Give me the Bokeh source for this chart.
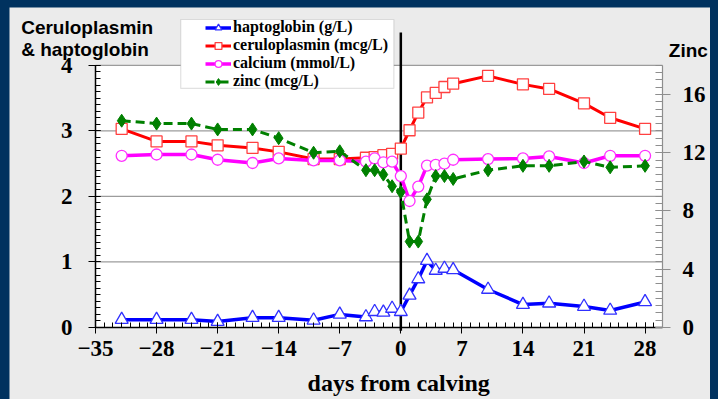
from bokeh.plotting import figure
from bokeh.models import (Range1d, LinearAxis, FixedTicker, Label, BoxAnnotation,
                          Legend, LegendItem, ColumnDataSource)
from bokeh.embed import file_html
from bokeh.resources import INLINE

# ---------------- data ----------------
days = [-32, -28, -24, -21, -17, -14, -10, -7, -4, -3, -2, -1, 0, 1, 2, 3, 4, 5, 6,
        10, 14, 17, 21, 24, 28]
haptoglobin = [0.12, 0.12, 0.12, 0.09, 0.15, 0.15, 0.11, 0.20, 0.16, 0.24, 0.23, 0.29, 0.24,
               0.49, 0.74, 1.02, 0.87, 0.90, 0.88, 0.58, 0.35, 0.37, 0.32, 0.26, 0.39]
ceruloplasmin = [3.03, 2.84, 2.84, 2.78, 2.74, 2.68, 2.57, 2.57, 2.59, 2.60, 2.63, 2.65, 2.73,
                 3.01, 3.28, 3.51, 3.58, 3.67, 3.72, 3.84, 3.71, 3.64, 3.42, 3.20, 3.03]
calcium = [2.62, 2.64, 2.64, 2.56, 2.51, 2.58, 2.55, 2.55, 2.53, 2.58, 2.52, 2.53, 2.31,
           1.93, 2.15, 2.47, 2.48, 2.50, 2.56, 2.57, 2.58, 2.61, 2.51, 2.62, 2.62]
zinc = [14.2, 14.0, 14.0, 13.6, 13.6, 13.0, 12.0, 12.1, 10.8, 10.8, 10.5, 9.7, 9.3,
        5.9, 5.9, 8.8, 10.4, 10.4, 10.2, 10.8, 11.1, 11.1, 11.4, 11.0, 11.1]

x_ticks = [-35, -28, -21, -14, -7, 0, 7, 14, 21, 28]
left_ticks = [0, 1, 2, 3, 4]
right_ticks = [0, 4, 8, 12, 16]
series_names = ["haptoglobin (g/L)", "ceruloplasmin (mcg/L)", "calcium (mmol/L)", "zinc (mcg/L)"]

# ---------------- layout constants ----------------
X_MIN, X_MAX = -35, 30            # plotting box (days)
Y_MAX_AXIS = 4                    # left axis top
ZINC_MAX_AXIS = 18                # right axis top
ZINC_SCALE = 4.5                  # zinc units per left unit
VIEW_X = (-44.86, 35.50)          # whole canvas in data units
VIEW_Y = (-1.0987, 4.8828)
CALVING_DAY = 0
CALVING_LINE = (-0.05, 4.5)
LEGEND_BOX = dict(left=-25.23, right=-0.80, bottom=3.648, top=4.70)

NAVY = "#00325f"
PANEL = "#ebebeb"
GRID = "#9c9c9c"
TICK_FONT = "Liberation Serif"
TITLE_FONT = "Liberation Sans"

src = ColumnDataSource(dict(days=days, haptoglobin=haptoglobin, ceruloplasmin=ceruloplasmin,
                            calcium=calcium, zinc=zinc))

p = figure(width=701, height=392, output_backend="svg", toolbar_location=None,
           x_range=Range1d(*VIEW_X), y_range=Range1d(*VIEW_Y), min_border=0)
p.extra_y_ranges = {"zinc": Range1d(VIEW_Y[0] * ZINC_SCALE, VIEW_Y[1] * ZINC_SCALE)}
p.background_fill_color = PANEL
p.border_fill_color = PANEL
p.outline_line_color = None
p.grid.visible = False

# white plotting box
p.add_layout(BoxAnnotation(left=X_MIN, right=X_MAX, bottom=0, top=Y_MAX_AXIS,
                           fill_color="white", fill_alpha=1, line_alpha=0, level="image"))

# horizontal grid lines (and top border) at the left-axis ticks
grid_y = left_ticks[1:]
p.segment(x0=[X_MIN] * len(grid_y), x1=[X_MAX] * len(grid_y), y0=grid_y, y1=grid_y,
          line_color=GRID, line_width=1.2)


def style_axis(ax, tick_out, tick_in, minor_in, standoff, color="black", lw=1.5):
    ax.axis_line_color = color
    ax.axis_line_width = lw
    ax.major_tick_line_color = color
    ax.minor_tick_line_color = color
    ax.major_tick_out = tick_out
    ax.major_tick_in = tick_in
    ax.minor_tick_out = 0
    ax.minor_tick_in = minor_in
    ax.major_label_standoff = standoff
    ax.major_label_text_font = TICK_FONT
    ax.major_label_text_font_style = "bold"
    ax.major_label_text_font_size = "23px"
    ax.major_label_text_color = "black"


# bottom axis
xa = p.xaxis[0]
xa.ticker = FixedTicker(ticks=x_ticks, minor_ticks=list(range(X_MIN, X_MAX + 1)))
xa.bounds = (X_MIN, X_MAX)
xa.fixed_location = 0
style_axis(xa, 6, 5, 5, 8)

# left axis
ya = p.yaxis[0]
ya.ticker = FixedTicker(ticks=left_ticks, minor_ticks=[i / 10 for i in range(41)])
ya.bounds = (0, Y_MAX_AXIS)
ya.fixed_location = X_MIN
style_axis(ya, 7, 5, 5, 16)

# right axis (zinc)
ra = LinearAxis(y_range_name="zinc",
                ticker=FixedTicker(ticks=right_ticks, minor_ticks=[i * 0.5 for i in range(37)]),
                bounds=(0, ZINC_MAX_AXIS), fixed_location=X_MAX)
style_axis(ra, 8, 7, 7, 12, color="#8e8e8e", lw=1.2)
p.add_layout(ra, "right")

# calving line
p.segment(x0=[CALVING_DAY], y0=[CALVING_LINE[0]], x1=[CALVING_DAY], y1=[CALVING_LINE[1]],
          line_color="black", line_width=2.5)

# series
l1 = p.line("days", "haptoglobin", source=src, line_color="#0000ff", line_width=3.5)
s1 = p.scatter("days", "haptoglobin", source=src, marker="triangle", size=13,
               fill_color="white", line_color="#3030ff", line_width=1.3)
l2 = p.line("days", "ceruloplasmin", source=src, line_color="#ff0000", line_width=3)
s2 = p.scatter("days", "ceruloplasmin", source=src, marker="square", size=11,
               fill_color="white", line_color="#ff4040", line_width=1.3)
l3 = p.line("days", "calcium", source=src, line_color="#ff00ff", line_width=3.5)
s3 = p.scatter("days", "calcium", source=src, marker="circle", size=11,
               fill_color="white", line_color="#ff30ff", line_width=1.3)
l4 = p.line("days", "zinc", source=src, y_range_name="zinc", line_color="#008000",
            line_width=3, line_dash="9 5")
s4 = p.scatter("days", "zinc", source=src, y_range_name="zinc", marker="diamond", size=13,
               fill_color="#008000", line_color="#008000", line_width=1)

# legend box + legend
p.add_layout(BoxAnnotation(**LEGEND_BOX, fill_color="white", fill_alpha=1,
                           line_color="#9a9a9a", line_width=1.2))
legend = Legend(items=[LegendItem(label=series_names[0], renderers=[l1, s1]),
                       LegendItem(label=series_names[1], renderers=[l2, s2]),
                       LegendItem(label=series_names[2], renderers=[l3, s3]),
                       LegendItem(label=series_names[3], renderers=[l4, s4])],
                location=(194, 307), padding=2, margin=0, spacing=0,
                glyph_width=26, glyph_height=17, label_height=17, label_standoff=2,
                label_text_font=TICK_FONT, label_text_font_style="bold",
                label_text_font_size="16px", label_text_color="black",
                border_line_alpha=0, background_fill_alpha=0)
p.add_layout(legend)


# texts
def add_text(x, y, text, font, size, align="left"):
    p.add_layout(Label(x=x, y=y, text=text, text_font=font, text_font_style="bold",
                       text_font_size=size, text_color="black",
                       text_align=align, text_baseline="middle"))


add_text(-43.52, 4.585, "Ceruloplasmin", TITLE_FONT, "19px")
add_text(-43.52, 4.239, "& haptoglobin", TITLE_FONT, "19px")
add_text(30.72, 4.227, "Zinc", TITLE_FONT, "19px")
add_text(-0.25, -0.85, "days from calving", TICK_FONT, "24px", align="center")

page_css = ("<style>html, body { margin: 0 !important; } body { background: %s !important;"
            " padding: 7px 8px 0 9px !important; overflow: hidden; }</style>" % NAVY)
html = file_html(p, INLINE)
html = html.replace("</head>", page_css + "\n</head>", 1)
open("out.html", "w").write(html)
